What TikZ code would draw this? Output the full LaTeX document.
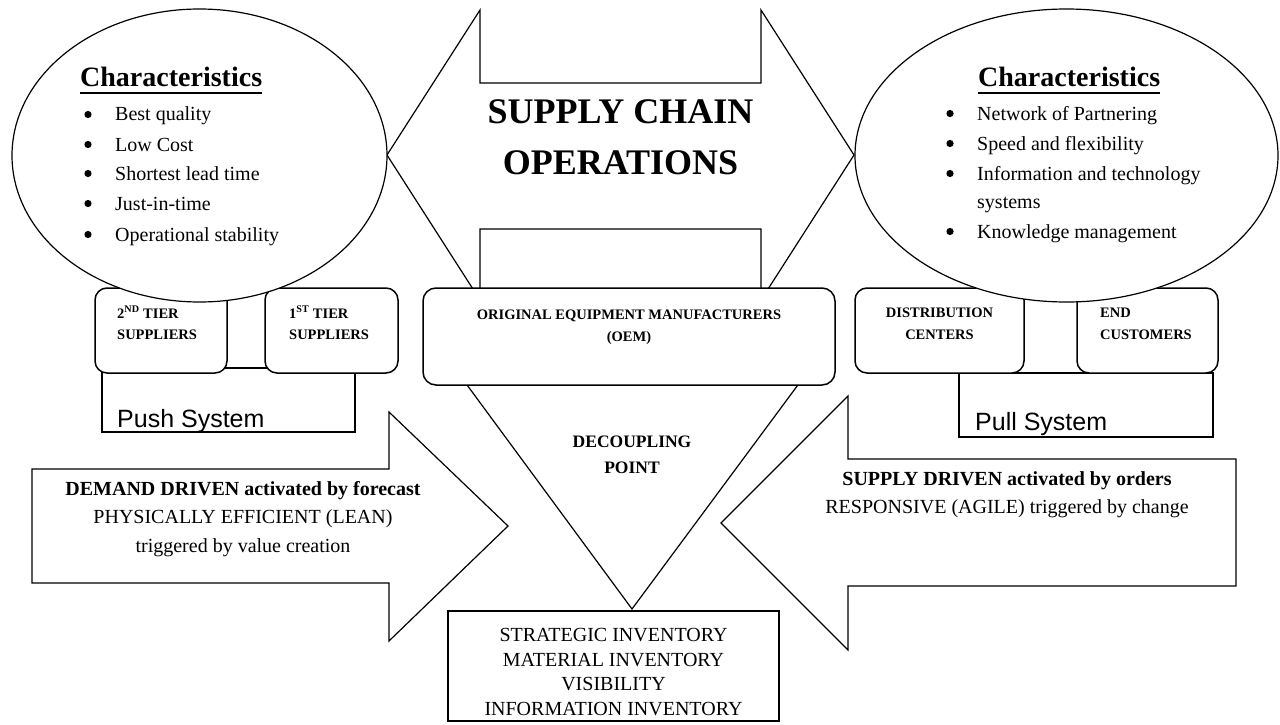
\documentclass[tikz,border=0pt]{standalone}
\usepackage{fontspec}
\setmainfont{Liberation Serif}
\newfontfamily\arialf{Liberation Sans}
\begin{document}
\begin{tikzpicture}[x=1pt,y=-1pt,
  shapeline/.style={draw=black, line width=1.2pt, fill=white, line join=miter},
  boxline/.style={draw=black, line width=1.5pt, fill=white, rounded corners=13pt},
  plainrect/.style={draw=black, line width=1.5pt, fill=white},
  txt/.style={inner sep=0pt, anchor=base west},
  ctxt/.style={inner sep=0pt, anchor=base},
  boxfont/.style={font=\fontsize{14.5}{21}\selectfont\bfseries},
  itemfont/.style={font=\fontsize{20}{30}\selectfont},
  headfont/.style={font=\fontsize{28}{32}\selectfont\bfseries},
  sysfont/.style={font=\arialf\fontsize{25}{30}\selectfont},
  bulletdot/.style={fill=black, draw=none},
  uline/.style={line width=2pt},
]
\useasboundingbox (0,0) rectangle (1280,725);

% central double arrow
\draw[shapeline] (387,155) -- (480,10) -- (480,83) -- (761,83) -- (761,10) -- (854,155)
  -- (761,300) -- (761,229) -- (480,229) -- (480,300) -- cycle;

% decoupling triangle
\draw[shapeline] (456,370) -- (809,370) -- (632,609) -- cycle;

% OEM box
\node[boxline, minimum width=412pt, minimum height=97pt] (oem) at (629,336.5) {};
\node[ctxt, boxfont] (oemt1) at (629,319) {ORIGINAL EQUIPMENT MANUFACTURERS};
\node[ctxt, boxfont] (oemt2) at (629,341) {(OEM)};

% decoupling text
\node[ctxt, font=\fontsize{17.5}{26}\selectfont\bfseries] (dec1) at (632,447) {DECOUPLING};
\node[ctxt, font=\fontsize{17.5}{26}\selectfont\bfseries] (dec2) at (632,473) {POINT};

% bottom inventory box
\node[draw=black, line width=1.2pt, fill=white, minimum width=331pt, minimum height=110pt] (inv) at (613.5,666) {};
\node[ctxt, font=\fontsize{20}{25}\selectfont] (inv1) at (613.5,641) {STRATEGIC INVENTORY};
\node[ctxt, font=\fontsize{20}{25}\selectfont] (inv2) at (613.5,666) {MATERIAL INVENTORY};
\node[ctxt, font=\fontsize{20}{25}\selectfont] (inv3) at (613.5,690) {VISIBILITY};
\node[ctxt, font=\fontsize{20}{25}\selectfont] (inv4) at (613.5,715) {INFORMATION INVENTORY};

% left arrow (demand driven)
\draw[shapeline] (32,469) -- (389,469) -- (389,412) -- (508,526) -- (389,641) -- (389,583) -- (32,583) -- cycle;
\node[ctxt, font=\fontsize{20}{28}\selectfont\bfseries] (dd1) at (243,495) {DEMAND DRIVEN activated by forecast};
\node[ctxt, font=\fontsize{20}{28}\selectfont] (dd2) at (243,523) {PHYSICALLY EFFICIENT (LEAN)};
\node[ctxt, font=\fontsize{20}{28}\selectfont] (dd3) at (243,552) {triggered by value creation};

% right arrow (supply driven)
\draw[shapeline] (1236,459) -- (848,459) -- (848,396) -- (721,523) -- (848,650) -- (848,586) -- (1236,586) -- cycle;
\node[ctxt, font=\fontsize{20}{28}\selectfont\bfseries] (sd1) at (1007,485) {SUPPLY DRIVEN activated by orders};
\node[ctxt, font=\fontsize{20}{28}\selectfont] (sd2) at (1007,513) {RESPONSIVE (AGILE) triggered by change};

% push system
\draw[plainrect] (102,368) rectangle (355,432);
\node[txt, sysfont] (push) at (117,427) {Push System};
\node[boxline, rounded corners=12pt, minimum width=132pt, minimum height=85pt] (tier2) at (161,330.5) {};
\node[boxline, rounded corners=12pt, minimum width=133pt, minimum height=85pt] (tier1) at (331.5,330.5) {};
\node[txt, boxfont] (t2a) at (117,318) {2\textsuperscript{ND} TIER};
\node[txt, boxfont] (t2b) at (117,339) {SUPPLIERS};
\node[txt, boxfont] (t1a) at (289,318) {1\textsuperscript{ST} TIER};
\node[txt, boxfont] (t1b) at (289,339) {SUPPLIERS};

% pull system
\draw[plainrect] (959,373) rectangle (1213,437);
\node[txt, sysfont] (pull) at (975,430) {Pull System};
\node[boxline, rounded corners=12pt, minimum width=169pt, minimum height=85pt] (dist) at (939.5,330.5) {};
\node[boxline, rounded corners=12pt, minimum width=141pt, minimum height=85pt] (endc) at (1147.5,330.5) {};
\node[ctxt, boxfont] (da) at (939.5,317) {DISTRIBUTION};
\node[ctxt, boxfont] (db) at (939.5,339) {CENTERS};
\node[txt, boxfont] (ea) at (1100,317) {END};
\node[txt, boxfont] (eb) at (1100,339) {CUSTOMERS};

% left ellipse
\draw[shapeline] (199.5,155.5) ellipse [x radius=187.5, y radius=146.5];
\node[txt, headfont] (lch) at (80,87) {Characteristics};
\draw[uline] ([yshift=-6pt]lch.base west) -- ([yshift=-6pt]lch.base east);
\foreach \y/\t in {121/Best quality, 151/Low Cost, 180/Shortest lead time, 210/Just-in-time, 241/Operational stability}{
  \fill[bulletdot] (88,\y-6.5) circle [radius=3.6];
  \node[txt, itemfont] at (115,\y) {\t};
}

% right ellipse
\draw[shapeline] (1066.5,155.5) ellipse [x radius=211.5, y radius=146.5];
\node[txt, headfont] (rch) at (978,87) {Characteristics};
\draw[uline] ([yshift=-6pt]rch.base west) -- ([yshift=-6pt]rch.base east);
\foreach \y/\t in {120/Network of Partnering, 150/Speed and flexibility, 180/Information and technology, 238/Knowledge management}{
  \fill[bulletdot] (950,\y-6.5) circle [radius=3.6];
  \node[txt, itemfont] at (977,\y) {\t};
}
\node[txt, itemfont] (sys) at (977,208) {systems};

% title
\node[ctxt, font=\fontsize{36}{51}\selectfont\bfseries] (title1) at (620.5,123) {SUPPLY CHAIN};
\node[ctxt, font=\fontsize{36}{51}\selectfont\bfseries] (title2) at (620.5,174) {OPERATIONS};
\end{tikzpicture}
\end{document}
